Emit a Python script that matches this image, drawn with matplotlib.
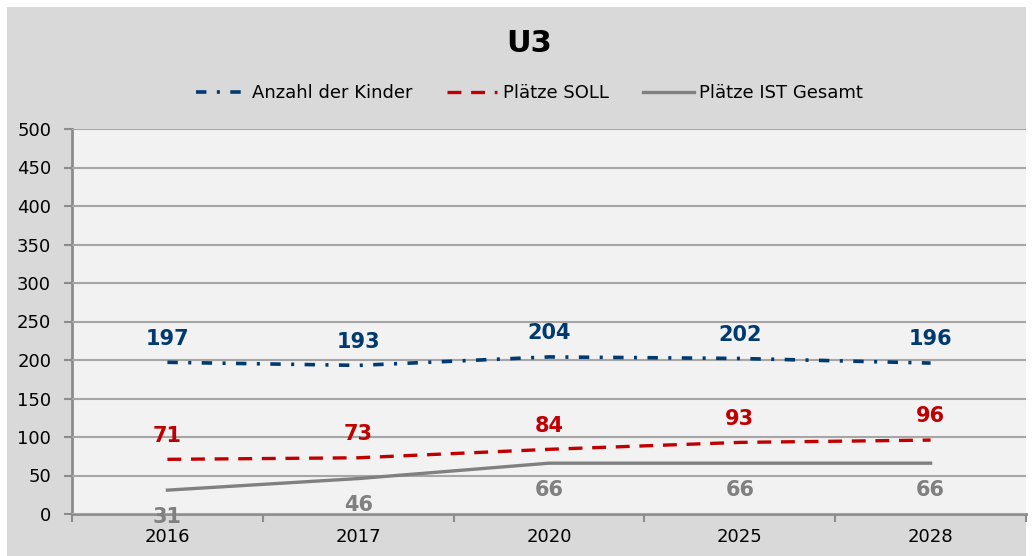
import matplotlib.pyplot as plt
from matplotlib.patches import Rectangle

# chart data
years = ['2016', '2017', '2020', '2025', '2028']
kinder = [197, 193, 204, 202, 196]
soll = [71, 73, 84, 93, 96]
ist = [31, 46, 66, 66, 66]

blue = '#003a70'
red = '#c00000'
grey = '#808080'

plt.rcParams['lines.scale_dashes'] = False

fig = plt.figure(figsize=(10.34, 5.56), dpi=100, facecolor='white')
# grey chart area with thin white border
fig.patches.append(Rectangle((7/1034, 0), (1026-7)/1034, 1-7/556,
                             transform=fig.transFigure, facecolor='#d9d9d9',
                             edgecolor='none', zorder=-10))

ax = fig.add_axes([72/1034, 42/556, (1026-72)/1034, (514-129)/556])
ax.set_facecolor('#f2f2f2')

x = list(range(len(years)))
ax.plot(x, kinder, color=blue, lw=2.6, dashes=(7.5, 7.5, 2.2, 7.5),
        label='Anzahl der Kinder')
ax.plot(x, soll, color=red, lw=2.4, dashes=(10, 7),
        label='Plätze SOLL')
ax.plot(x, ist, color=grey, lw=2.4, label='Plätze IST Gesamt')

for i in x:
    ax.annotate(str(kinder[i]), (i, kinder[i]), xytext=(0, 17), textcoords='offset points',
                ha='center', va='center', color=blue, fontsize=15, fontweight='bold')
    ax.annotate(str(soll[i]), (i, soll[i]), xytext=(0, 17), textcoords='offset points',
                ha='center', va='center', color=red, fontsize=15, fontweight='bold')
    ax.annotate(str(ist[i]), (i, ist[i]), xytext=(0, -19), textcoords='offset points',
                ha='center', va='center', color=grey, fontsize=15, fontweight='bold',
                zorder=1)

ax.set_xlim(-0.5, len(years) - 0.5)
ax.set_ylim(0, 500)
ax.set_yticks(range(0, 501, 50))
ax.set_xticks([i + 0.5 for i in range(-1, len(years))])
ax.set_xticklabels([])
ax.set_xticks(x, minor=True)
ax.set_xticklabels(years, minor=True)
ax.tick_params(axis='x', which='minor', length=0, labelsize=13, pad=10)
ax.tick_params(axis='x', which='major', length=6, width=1.5, color='#8c8c8c')
ax.tick_params(axis='y', length=6, width=1.5, color='#8c8c8c', labelsize=13, pad=9)

ax.yaxis.grid(True, color='#a6a6a6', lw=1.5)
ax.set_axisbelow(True)
for s in ['top', 'right']:
    ax.spines[s].set_visible(False)
for s in ['left', 'bottom']:
    ax.spines[s].set_color('#8c8c8c')
    ax.spines[s].set_linewidth(2)
    ax.spines[s].set_zorder(0.5)

fig.text(0.512, 1 - 43/556, 'U3', ha='center', va='center', fontsize=22, fontweight='bold')
fig.legend(loc='center', bbox_to_anchor=(0.512, 1 - 93/556), ncol=3, frameon=False,
           fontsize=13, handlelength=2.8, handletextpad=0.3, columnspacing=1.9)

fig.savefig('out.png', dpi=100, facecolor=fig.get_facecolor())
